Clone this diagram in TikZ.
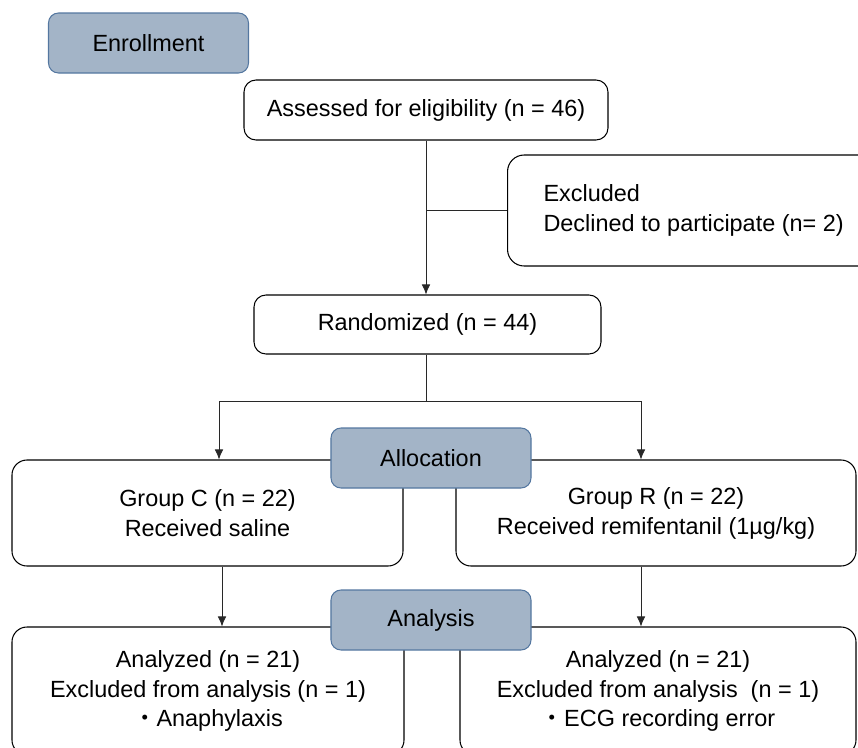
\documentclass[tikz,border=0pt]{standalone}
\usepackage{fontspec}
\setmainfont{Liberation Sans}
\newfontfamily\cjk{Noto Sans CJK JP}
\usepackage{tikz}
\usetikzlibrary{calc,arrows.meta}
\definecolor{stagefill}{RGB}{163,180,199}
\definecolor{stageline}{RGB}{84,119,160}
\definecolor{wire}{RGB}{40,40,40}

\begin{document}
\begin{tikzpicture}[x=0.03cm,y=-0.03cm,font=\fontsize{20}{25.5}\selectfont,
                    stage/.style={draw=stageline,fill=stagefill,rounded corners=0.3cm,line width=0.9pt,minimum width=6cm,minimum height=1.8cm},
                    box/.style={draw,fill=white,rounded corners=0.36cm,line width=0.9pt,align=center},
                    wire/.style={draw=wire,line width=0.8pt},
                    tip/.style={-{Latex[length=0.3cm,width=0.26cm]}}]
                      \useasboundingbox (0,0) rectangle (858,747);
                      \clip (0,0) rectangle (858,747);
                      \node[stage](enroll)at(148.5,43){Enrollment};
                      \node[box,minimum width=10.92cm,minimum height=1.8cm](assess)at(426,110){Assessed for eligibility (n = 46)};
                      \node[box,anchor=west,align=left,rounded corners=0.5cm,inner xsep=1.08cm,minimum height=3.33cm](excl)at(507,210.5){Excluded\\Declined to participate (n= 2)};
                      \node[box,minimum width=10.41cm,minimum height=1.77cm](rand)at(427.5,324.5){Randomized (n = 44)};
                      \node[box,rounded corners=0.45cm,minimum width=11.73cm,minimum height=3.18cm](grpC)at(207.5,513){Group C (n = 22)\\Received saline};
                      \node[box,rounded corners=0.45cm,minimum width=12cm,minimum height=3.18cm](grpR)at(656,513){Group R (n = 22)\\Received remifentanil (1µg/kg)};
                      \node[box,rounded corners=0.45cm,minimum width=11.76cm,minimum height=3.84cm](anC)at(208,691){Analyzed (n = 21)\\Excluded from analysis (n = 1)\\{\cjk ・}Anaphylaxis};
                      \node[box,rounded corners=0.45cm,minimum width=11.88cm,minimum height=3.84cm](anR)at(658,691){Analyzed (n = 21)\\Excluded from analysis~ (n = 1)\\{\cjk ・}ECG recording error};
                      \node[stage](alloc)at(431,458){Allocation};
                      \node[stage](analys)at(431,620){Analysis};
                      \coordinate(split)at(426,401);
                      \draw[wire,tip](assess.south)--(assess.south |- rand.north);
                      \draw[wire](excl.west)--(excl.west -| assess.south);
                      \draw[wire](split |- rand.south)--(split);
                      \draw[wire,tip](split)-|([xshift=0.345cm]grpC.north);
                      \draw[wire,tip](split)-|([xshift=-0.45cm]grpR.north);
                      \draw[wire,tip]([xshift=0.435cm]grpC.south)--([xshift=0.435cm]grpC.south |- anC.north);
                      \draw[wire,tip]([xshift=-0.45cm]grpR.south)--([xshift=-0.45cm]grpR.south |- anR.north);
                  \end{tikzpicture}
\end{document}
